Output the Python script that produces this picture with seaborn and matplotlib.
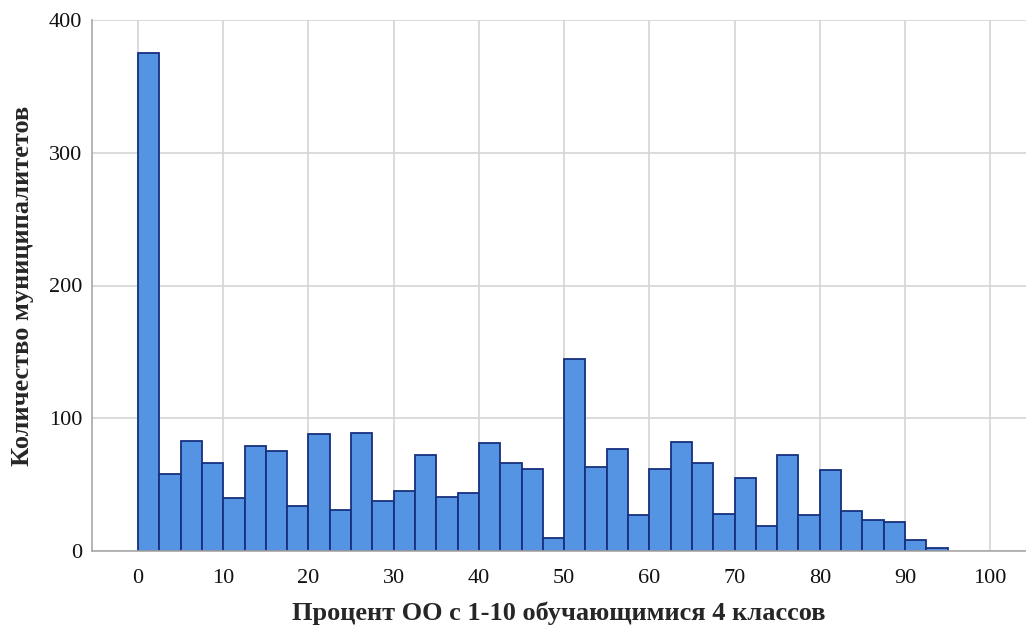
import numpy as np
import pandas as pd
import matplotlib
matplotlib.use('Agg')
import matplotlib.pyplot as plt
import seaborn as sns

# histogram bins (width 2.5) and municipality counts
bin_edges = [0, 2.5, 5, 7.5, 10, 12.5, 15, 17.5, 20, 22.5, 25, 27.5, 30, 32.5, 35, 37.5,
             40, 42.5, 45, 47.5, 50, 52.5, 55, 57.5, 60, 62.5, 65, 67.5, 70, 72.5, 75,
             77.5, 80, 82.5, 85, 87.5, 90, 92.5, 95]
counts = [375, 58, 83, 66, 40, 79, 75, 34, 88, 31, 89, 38, 45, 72, 41, 44,
          81, 66, 62, 10, 145, 63, 77, 27, 62, 82, 66, 28, 55, 19, 72,
          27, 61, 30, 23, 22, 8, 2]
x_ticks = [0, 10, 20, 30, 40, 50, 60, 70, 80, 90, 100]
y_ticks = [0, 100, 200, 300, 400]

edges = np.array(bin_edges)
df = pd.DataFrame({'pct': (edges[:-1] + edges[1:]) / 2, 'n': counts})

sns.set_style('white')
plt.rcParams['font.family'] = ['Liberation Serif', 'DejaVu Serif']

fig = plt.figure(figsize=(10.26, 6.29), dpi=100)
ax = fig.add_axes([92 / 1026, 1 - 551 / 629, 1 - 92 / 1026, (551 - 20) / 629])

sns.histplot(data=df, x='pct', weights='n', bins=bin_edges, ax=ax,
             color='#5494E2', edgecolor='#17307F', linewidth=1.3, alpha=1)

ax.set_xlim(-5.4, 104.2)
ax.set_ylim(0, 400)
ax.set_xticks(x_ticks)
ax.set_yticks(y_ticks)
ax.tick_params(axis='both', length=0, labelsize=16, colors='#111111')
ax.tick_params(axis='x', pad=13)
ax.tick_params(axis='y', pad=7)
ax.grid(True, color='#d4d4d4', linewidth=1.2)
ax.set_axisbelow(True)

for side in ['top', 'right']:
    ax.spines[side].set_visible(False)
for side in ['left', 'bottom']:
    ax.spines[side].set_color('#a8a8a8')
    ax.spines[side].set_linewidth(1.2)

ax.set_xlabel('Процент ОО с 1-10 обучающимися 4 классов', fontsize=19, fontweight='bold', labelpad=10)
ax.set_ylabel('Количество муниципалитетов', fontsize=19, fontweight='bold', labelpad=11)

fig.savefig('out.png', dpi=100)
